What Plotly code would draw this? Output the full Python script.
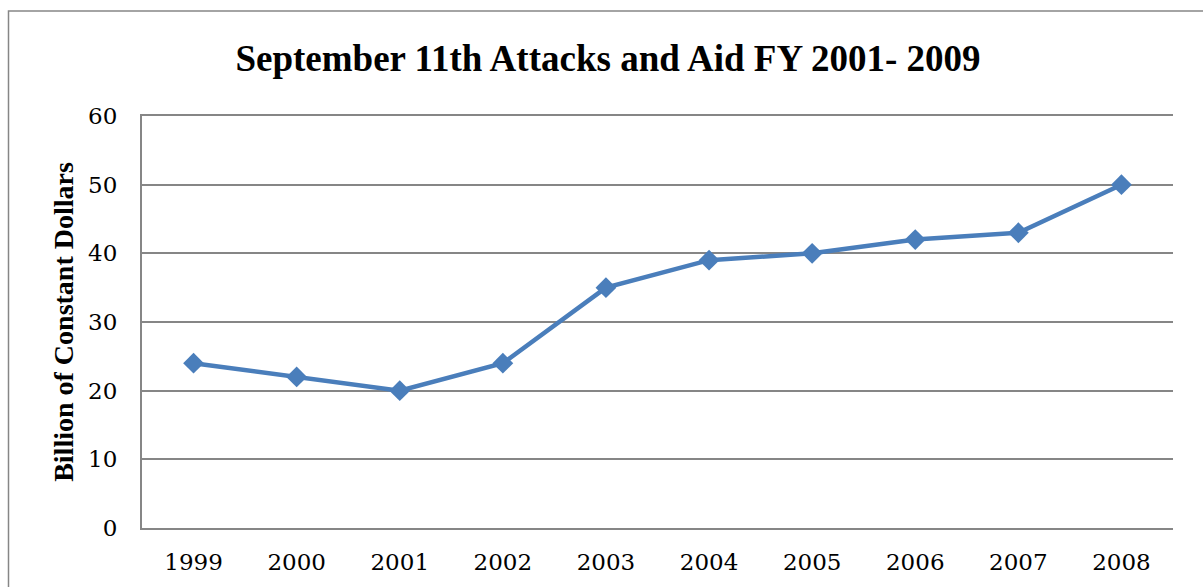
import plotly.graph_objects as go

years = ["1999", "2000", "2001", "2002", "2003", "2004", "2005", "2006", "2007", "2008"]
values = [24, 22, 20, 24, 35, 39, 40, 42, 43, 50]
y_ticks = [0, 10, 20, 30, 40, 50, 60]

W, H = 1203, 587
L, R, T, B = 142, 30, 116, 59
pw, ph = W - L - R, H - T - B

def px_x(p):
    return (p - L) / pw

def px_y(p):
    return (H - B - p) / ph

FONT = "Liberation Serif"
TICKFONT = "DejaVu Serif"

fig = go.Figure()
fig.add_trace(go.Scatter(
    x=years, y=values, mode="lines+markers",
    line=dict(color="#4A7EBB", width=4.5),
    marker=dict(symbol="diamond", size=16, color="#4A7EBB"),
    showlegend=False, hoverinfo="x+y",
))

fig.update_layout(
    width=W, height=H,
    margin=dict(l=L, r=R, t=T, b=B),
    paper_bgcolor="white", plot_bgcolor="white",
    title=dict(text="<b>September 11th Attacks and Aid FY 2001- 2009</b>",
               x=(233 + 983) / 2 / W, xanchor="center", y=1 - 58 / H, yanchor="middle",
               font=dict(family=FONT, size=37, color="black")),
    xaxis=dict(type="category", showgrid=False, showline=True, linecolor="#868686",
               linewidth=2, mirror=True, ticks="", ticklabelstandoff=12,
               tickfont=dict(family=TICKFONT, size=23, color="black"),
               range=[-0.5, 9.5], fixedrange=True),
    yaxis=dict(range=[0, 60], tickvals=y_ticks, showgrid=True, gridcolor="#868686",
               gridwidth=2, showline=True, linecolor="#868686", linewidth=2,
               ticks="", ticklabelstandoff=18, zeroline=False,
               tickfont=dict(family=TICKFONT, size=23, color="black"),
               title=dict(text="<b>Billion of Constant Dollars</b>", standoff=6,
                          font=dict(family=FONT, size=28, color="black")),
               fixedrange=True),
    shapes=[dict(type="rect", xref="paper", yref="paper",
                 x0=px_x(8.5), x1=px_x(1215), y0=px_y(600), y1=px_y(11),
                 line=dict(color="#868686", width=1.5), fillcolor="rgba(0,0,0,0)",
                 layer="below")],
)

fig.write_html("out.html")
